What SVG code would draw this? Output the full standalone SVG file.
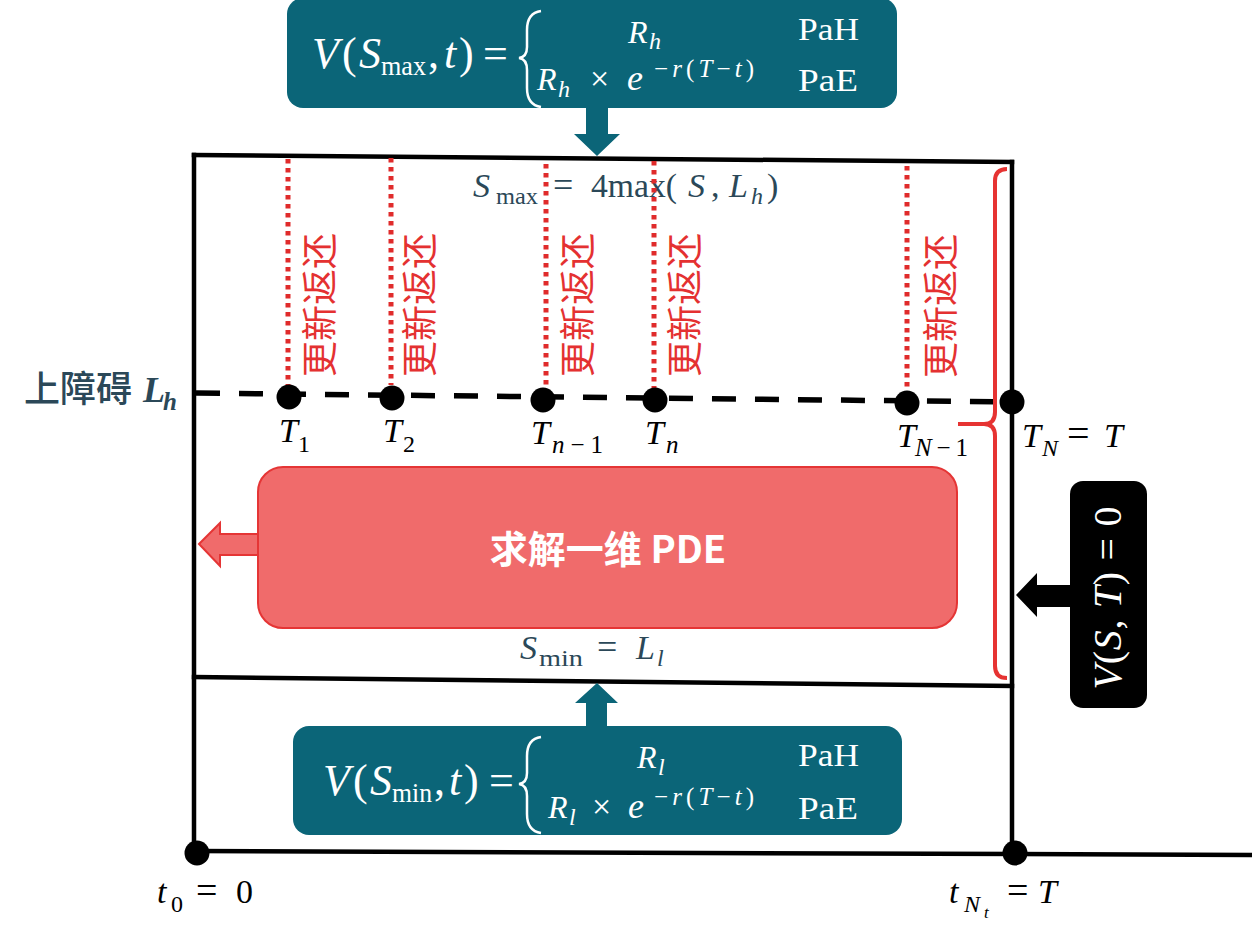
<svg xmlns="http://www.w3.org/2000/svg" width="1252" height="927" viewBox="0 0 1252 927">
<style>
.m{font-family:"Liberation Serif","DejaVu Serif",serif;}
.i{font-style:italic;}
.w{fill:#ffffff;}
.k{fill:#000000;}
.d{fill:#2b4858;}
.frame{stroke:#000;stroke-width:4.5;fill:none;stroke-linecap:square;}
.dot{fill:#000;}
.upd{font-family:"Noto Sans CJK SC","Noto Sans CJK JP",sans-serif;font-size:36px;fill:#e43131;}
.redline{stroke:#e02b2b;stroke-width:5;stroke-dasharray:4.5 4.5;fill:none;}
.teal{fill:#0b6578;}
.brace{stroke:#ffffff;stroke-width:2.5;fill:none;}
</style>

<g id="frame">
  <line class="frame" x1="194" y1="155" x2="1012" y2="162"/>
  <line class="frame" x1="194" y1="155" x2="194" y2="851"/>
  <line class="frame" x1="1012" y1="162" x2="1012" y2="853"/>
  <line class="frame" x1="194" y1="677" x2="1012" y2="686"/>
  <line class="frame" x1="196" y1="851" x2="1252" y2="855"/>
</g>

<g id="barrier">
  <line x1="196" y1="393" x2="1012" y2="402" stroke="#000" stroke-width="5.5" stroke-dasharray="24 19"/>
  <text x="24" y="402" font-family="Noto Sans CJK SC,Noto Sans CJK JP,sans-serif" font-size="36" font-weight="500" class="d">上障碍</text>
  <text class="m i d" x="143" y="402" font-size="36" font-weight="bold">L</text>
  <text class="m i d" x="163" y="410" font-size="25" font-weight="bold">h</text>
</g>

<g id="bounds-text">
  <text class="m i d" x="473" y="197" font-size="34">S</text>
  <text class="m d" x="496" y="204" font-size="24" textLength="42" lengthAdjust="spacingAndGlyphs">max</text>
  <text class="m d" x="553" y="197" font-size="36">=</text>
  <text class="m d" x="591" y="197" font-size="34" textLength="86" lengthAdjust="spacingAndGlyphs">4max(</text>
  <text class="m i d" x="688" y="197" font-size="34">S</text>
  <text class="m d" x="711" y="197" font-size="34">,</text>
  <text class="m i d" x="729" y="197" font-size="34">L</text>
  <text class="m i d" x="751" y="204" font-size="24">h</text>
  <text class="m d" x="767" y="197" font-size="34">)</text>

  <text class="m i d" x="520" y="659" font-size="34">S</text>
  <text class="m d" x="539" y="666" font-size="24" textLength="44" lengthAdjust="spacingAndGlyphs">min</text>
  <text class="m d" x="597" y="659" font-size="36">=</text>
  <text class="m i d" x="636" y="659" font-size="34">L</text>
  <text class="m i d" x="657" y="666" font-size="24">l</text>
</g>

<g id="update-lines">
  <line class="redline" x1="288" y1="159" x2="288" y2="385"/>
  <line class="redline" x1="391" y1="158" x2="391" y2="385"/>
  <line class="redline" x1="546" y1="164" x2="546" y2="387"/>
  <line class="redline" x1="654" y1="161" x2="654" y2="388"/>
  <line class="redline" x1="907" y1="166" x2="907" y2="390"/>
  <text class="upd" transform="translate(333,305) rotate(-90)" text-anchor="middle">更新返还</text>
  <text class="upd" transform="translate(433,305) rotate(-90)" text-anchor="middle">更新返还</text>
  <text class="upd" transform="translate(591,305) rotate(-90)" text-anchor="middle">更新返还</text>
  <text class="upd" transform="translate(698,305) rotate(-90)" text-anchor="middle">更新返还</text>
  <text class="upd" transform="translate(954,306) rotate(-90)" text-anchor="middle">更新返还</text>
</g>

<g id="node-T1">
  <circle class="dot" cx="289" cy="397" r="12.5"/>
  <text class="m i k" x="279" y="442" font-size="34">T</text>
  <text class="m k" x="298" y="452" font-size="24">1</text>
</g>
<g id="node-T2">
  <circle class="dot" cx="392" cy="398" r="12.5"/>
  <text class="m i k" x="383" y="442" font-size="34">T</text>
  <text class="m k" x="403" y="452" font-size="24">2</text>
</g>
<g id="node-Tn-1">
  <circle class="dot" cx="543" cy="400" r="12.5"/>
  <text class="m i k" x="531" y="444" font-size="34">T</text>
  <text class="m k" x="552" y="453" font-size="25" textLength="51" lengthAdjust="spacing"><tspan font-style="italic">n</tspan>−1</text>
</g>
<g id="node-Tn">
  <circle class="dot" cx="655" cy="400" r="12.5"/>
  <text class="m i k" x="645" y="444" font-size="34">T</text>
  <text class="m i k" x="666" y="453" font-size="25">n</text>
</g>
<g id="node-TN-1">
  <circle class="dot" cx="907" cy="403" r="12.5"/>
  <text class="m i k" x="897" y="447" font-size="34">T</text>
  <text class="m k" x="915" y="456" font-size="25" textLength="53" lengthAdjust="spacing"><tspan font-style="italic">N</tspan>−1</text>
</g>
<g id="node-TN">
  <circle class="dot" cx="1012" cy="402" r="12.5"/>
  <text class="m i k" x="1022" y="447" font-size="34">T</text>
  <text class="m i k" x="1042" y="456" font-size="24">N</text>
  <text class="m k" x="1067" y="447" font-size="40">=</text>
  <text class="m i k" x="1104" y="447" font-size="34">T</text>
</g>

<g id="node-t0">
  <circle class="dot" cx="197" cy="853" r="12.5"/>
  <text class="m i k" x="157" y="903" font-size="34">t</text>
  <text class="m k" x="171" y="912" font-size="24">0</text>
  <text class="m k" x="196" y="903" font-size="38">=</text>
  <text class="m k" x="236" y="903" font-size="34">0</text>
</g>
<g id="node-tNt">
  <circle class="dot" cx="1015" cy="853" r="12.5"/>
  <text class="m i k" x="949" y="903" font-size="34">t</text>
  <text class="m i k" x="964" y="912" font-size="24">N</text>
  <text class="m i k" x="984" y="918" font-size="17">t</text>
  <text class="m k" x="1007" y="903" font-size="38">=</text>
  <text class="m i k" x="1038" y="903" font-size="34">T</text>
</g>

<g id="bracket">
  <path d="M1007,169 Q995,169 995,181 L995,412 Q995,424 984,424 L958,424 M984,424 Q995,424 995,436 L995,666 Q995,678 1007,678" stroke="#e63332" stroke-width="4" fill="none"/>
</g>

<g id="connectors">
  <polygon class="teal" points="586,106 608,106 608,134 620,134 597,156 574,134 586,134"/>
  <polygon class="teal" points="597,683 618,703 607,703 607,728 586,728 586,703 575,703"/>
  <polygon points="199,544 220,523 220,534 259,534 259,555 220,555 220,566" fill="#f06b6b" stroke="#e53535" stroke-width="2"/>
  <polygon points="1016,595 1037,573 1037,585 1071,585 1071,607 1037,607 1037,617" fill="#000"/>
</g>

<g id="node-top">
  <rect class="teal" x="287" y="-2" width="610" height="110" rx="16"/>
  <text class="m i w" x="312" y="68" font-size="44">V</text>
  <text class="m w" x="342" y="68" font-size="44">(</text>
  <text class="m i w" x="359" y="68" font-size="44">S</text>
  <text class="m w" x="381" y="75" font-size="28" textLength="45" lengthAdjust="spacingAndGlyphs">max</text>
  <text class="m w" x="428" y="68" font-size="44">,</text>
  <text class="m i w" x="444" y="68" font-size="44">t</text>
  <text class="m w" x="459" y="68" font-size="44">)</text>
  <text class="m w" x="483" y="68" font-size="44">=</text>
  <path class="brace" d="M541,11 Q527,13 527,30 L527,47 Q527,57 519,58 Q527,59 527,70 L527,88 Q527,105 541,107"/>
  <text class="m i w" x="628" y="43" font-size="32">R</text>
  <text class="m i w" x="649" y="49" font-size="24">h</text>
  <text class="m w" x="798" y="40" font-size="31" textLength="61" lengthAdjust="spacingAndGlyphs">PaH</text>
  <text class="m i w" x="537" y="90" font-size="32">R</text>
  <text class="m i w" x="558" y="97" font-size="24">h</text>
  <text class="m w" x="590" y="90" font-size="34">×</text>
  <text class="m i w" x="627" y="90" font-size="36">e</text>
  <text class="m w" x="654" y="77" font-size="25" textLength="100" lengthAdjust="spacing">−<tspan font-style="italic">r</tspan>(<tspan font-style="italic">T</tspan>−<tspan font-style="italic">t</tspan>)</text>
  <text class="m w" x="798" y="91" font-size="31" textLength="60" lengthAdjust="spacingAndGlyphs">PaE</text>
</g>

<g id="node-bottom">
  <rect class="teal" x="293" y="726" width="609" height="109" rx="16"/>
  <text class="m i w" x="323" y="795" font-size="44">V</text>
  <text class="m w" x="353" y="795" font-size="44">(</text>
  <text class="m i w" x="370" y="795" font-size="44">S</text>
  <text class="m w" x="392" y="802" font-size="28" textLength="40" lengthAdjust="spacingAndGlyphs">min</text>
  <text class="m w" x="434" y="795" font-size="44">,</text>
  <text class="m i w" x="449" y="795" font-size="44">t</text>
  <text class="m w" x="464" y="795" font-size="44">)</text>
  <text class="m w" x="489" y="795" font-size="44">=</text>
  <path class="brace" d="M541,737 Q527,739 527,756 L527,773 Q527,783 519,784 Q527,785 527,796 L527,814 Q527,831 541,833"/>
  <text class="m i w" x="637" y="768" font-size="32">R</text>
  <text class="m i w" x="658" y="775" font-size="24">l</text>
  <text class="m w" x="798" y="766" font-size="31" textLength="61" lengthAdjust="spacingAndGlyphs">PaH</text>
  <text class="m i w" x="548" y="818" font-size="32">R</text>
  <text class="m i w" x="569" y="825" font-size="24">l</text>
  <text class="m w" x="592" y="818" font-size="34">×</text>
  <text class="m i w" x="628" y="818" font-size="36">e</text>
  <text class="m w" x="654" y="805" font-size="25" textLength="100" lengthAdjust="spacing">−<tspan font-style="italic">r</tspan>(<tspan font-style="italic">T</tspan>−<tspan font-style="italic">t</tspan>)</text>
  <text class="m w" x="798" y="819" font-size="31" textLength="60" lengthAdjust="spacingAndGlyphs">PaE</text>
</g>

<g id="node-pde">
  <rect x="258" y="467" width="699" height="161" rx="25" fill="#f06b6b" stroke="#e53535" stroke-width="2"/>
  <text x="608" y="563" text-anchor="middle" font-family="Noto Sans CJK SC,Noto Sans CJK JP,sans-serif" font-size="38" font-weight="bold" fill="#ffffff">求解一维 PDE</text>
</g>

<g id="node-terminal">
  <rect x="1070" y="481" width="77" height="227" rx="13" fill="#000"/>
  <text class="m w" transform="translate(1121,598) rotate(-90)" text-anchor="middle" font-size="40" textLength="183" lengthAdjust="spacing"><tspan font-style="italic">V</tspan>(<tspan font-style="italic">S</tspan>, <tspan font-style="italic">T</tspan>) = 0</text>
</g>
</svg>
